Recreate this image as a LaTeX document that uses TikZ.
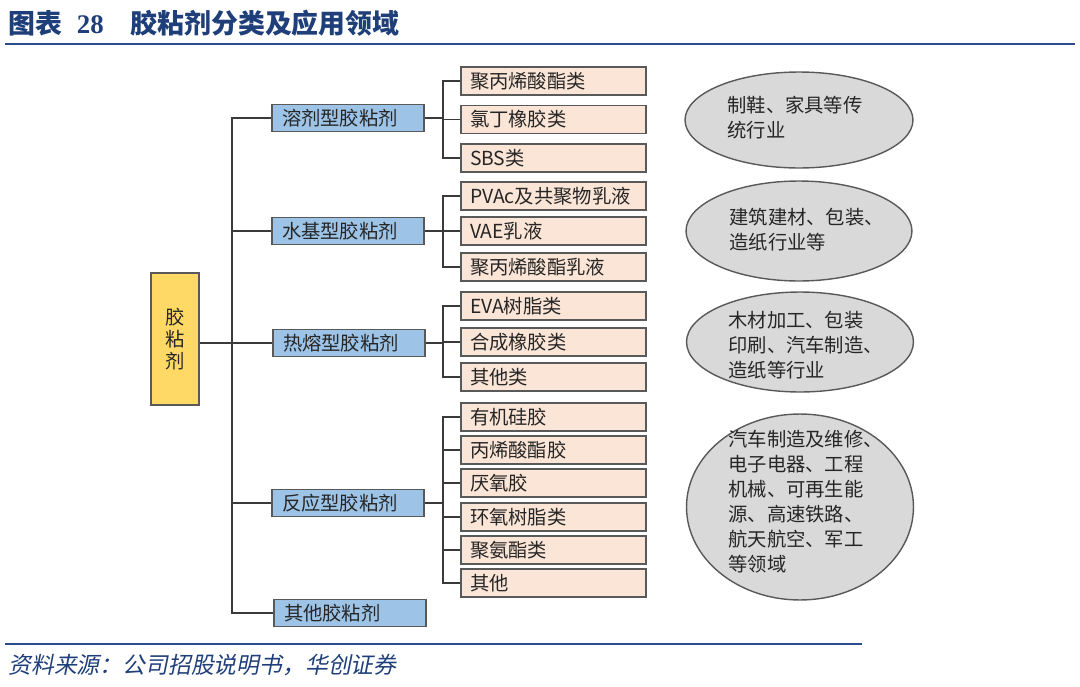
\documentclass[tikz,border=0pt]{standalone}
\usepackage{fontspec}
\usetikzlibrary{shapes.geometric}
\setmainfont{Noto Sans CJK SC}
\newfontfamily\numfont{Liberation Serif}
\newfontfamily\srcfont[FakeSlant=0.2]{Noto Sans CJK SC}
\definecolor{hdblue}{HTML}{1F3F7A}
\definecolor{rulblue}{HTML}{2A4D8F}
\definecolor{rootfill}{HTML}{FFD966}
\definecolor{catfill}{HTML}{9DC3E6}
\definecolor{leaffill}{HTML}{FBE5D6}
\definecolor{appfill}{HTML}{D9D9D9}
\definecolor{boxline}{HTML}{595959}
\definecolor{wire}{HTML}{3A3A3A}
\definecolor{txt}{HTML}{262626}
\begin{document}
\begin{tikzpicture}[x=0.02cm, y=-0.02cm]
    \useasboundingbox (0,0) rectangle (1080,687);
    \begin{scope}
        \tikzstyle{every node}=[anchor=west, inner sep=0, text=hdblue]
        \node (title) at (8,23) {\fontsize{15.3pt}{18pt}\selectfont\bfseries 图表\hspace{0.55em}{\numfont\bfseries 28}\hspace{1em}胶粘剂分类及应用领域};
        \node (src) at (8,665) {\fontsize{13pt}{15pt}\selectfont\srcfont 资料来源：公司招股说明书，华创证券};
        \coordinate (h1) at (5,44);
        \coordinate (h2) at (1075,44);
        \coordinate (f1) at (5,644);
        \coordinate (f2) at (862,644);
    \end{scope}
    \draw[rulblue, line width=1.7pt] (h1) -- (h2);
    \draw[rulblue, line width=1.7pt] (f1) -- (f2);
    \begin{scope}
        \tikzstyle{every node}=[draw=boxline, thick, text=txt, font=\fontsize{11pt}{12.5pt}\selectfont]
        \node[fill=rootfill, minimum width=0.96cm, minimum height=2.64cm, align=center] (r) at (175,339) {胶\\粘\\剂};
    \end{scope}
    \begin{scope}
        \tikzstyle{every node}=[fill=catfill, draw=boxline, thick, text=txt, minimum width=3.04cm, minimum height=0.54cm, text width=2.64cm, inner xsep=0.2cm, inner ysep=0, align=left, font=\fontsize{11pt}{13pt}\selectfont]
        \node (c1) at (348,118) {溶剂型胶粘剂};
        \node (c2) at (348,231) {水基型胶粘剂};
        \node (c3) at (349,343) {热熔型胶粘剂};
        \node (c4) at (348,503) {反应型胶粘剂};
        \node (c5) at (350,613) {其他胶粘剂};
    \end{scope}
    \begin{scope}
        \tikzstyle{every node}=[fill=leaffill, draw=boxline, thick, text=txt, minimum width=3.7cm, minimum height=0.56cm, text width=3.34cm, inner xsep=0.18cm, inner ysep=0, align=left, font=\fontsize{11pt}{13pt}\selectfont]
        \node (l11) at (553.5,81) {聚丙烯酸酯类};
        \node (l12) at (553.5,119.5) {氯丁橡胶类};
        \node (l13) at (553.5,158) {SBS类};
        \node (l21) at (553.5,196) {PVAc及共聚物乳液};
        \node (l22) at (553.5,231) {VAE乳液};
        \node (l23) at (553.5,267) {聚丙烯酸酯乳液};
        \node (l31) at (553.5,306) {EVA树脂类};
        \node (l32) at (553.5,342) {合成橡胶类};
        \node (l33) at (553.5,377) {其他类};
        \node (l41) at (553.5,417) {有机硅胶};
        \node (l42) at (553.5,450) {丙烯酸酯胶};
        \node (l43) at (553.5,483) {厌氧胶};
        \node (l44) at (553.5,517) {环氧树脂类};
        \node (l45) at (553.5,550) {聚氨酯类};
        \node (l46) at (553.5,583) {其他};
    \end{scope}
    \begin{scope}
        \tikzstyle{every node}=[ellipse, fill=appfill, draw=boxline, thick, inner sep=0]
        \node[minimum width=4.56cm, minimum height=1.92cm] (e1) at (799,120) {};
        \node[minimum width=4.52cm, minimum height=2.0cm] (e2) at (799,231) {};
        \node[minimum width=4.54cm, minimum height=2.0cm] (e3) at (800,342) {};
        \node[minimum width=4.54cm, minimum height=3.72cm] (e4) at (800,507) {};
    \end{scope}
    \begin{scope}
        \tikzstyle{every node}=[anchor=west, inner sep=0, align=left, text=txt, font=\fontsize{11pt}{14.2pt}\selectfont]
        \node (a1) at (727,118) {制鞋、家具等传\\统行业};
        \node (a2) at (729,230) {建筑建材、包装、\\造纸行业等};
        \node (a3) at (728,345) {木材加工、包装\\印刷、汽车制造、\\造纸等行业};
        \node (a4) at (728,502) {汽车制造及维修、\\电子电器、工程\\机械、可再生能\\源、高速铁路、\\航天航空、军工\\等领域};
    \end{scope}
    \begin{scope}
        \tikzstyle{every path}=[draw=wire, line width=0.6pt]
        \coordinate (tr) at (232,0);
        \coordinate (br) at (443,0);
        \draw (c1.west) -- (c1.west -| tr) -- (c5.west -| tr) -- (c5.west);
        \draw (c2.west) -- (c2.west -| tr);
        \draw (c4.west) -- (c4.west -| tr);
        \draw (r.east |- c3.west) -- (c3.west);
        \draw (l11.west) -- (l11.west -| br) -- (l13.west -| br) -- (l13.west);
        \draw (l12.west) -- (l12.west -| br);
        \draw (c1.east) -- (c1.east -| br);
        \draw (l21.west) -- (l21.west -| br) -- (l23.west -| br) -- (l23.west);
        \draw (l22.west) -- (l22.west -| br);
        \draw (c2.east) -- (c2.east -| br);
        \draw (l31.west) -- (l31.west -| br) -- (l33.west -| br) -- (l33.west);
        \draw (l32.west) -- (l32.west -| br);
        \draw (c3.east) -- (c3.east -| br);
        \draw (l41.west) -- (l41.west -| br) -- (l46.west -| br) -- (l46.west);
        \foreach \n in {l42,l43,l44,l45}
            \draw (\n.west) -- (\n.west -| br);
        \draw (c4.east) -- (c4.east -| br);
    \end{scope}
\end{tikzpicture}
\end{document}
